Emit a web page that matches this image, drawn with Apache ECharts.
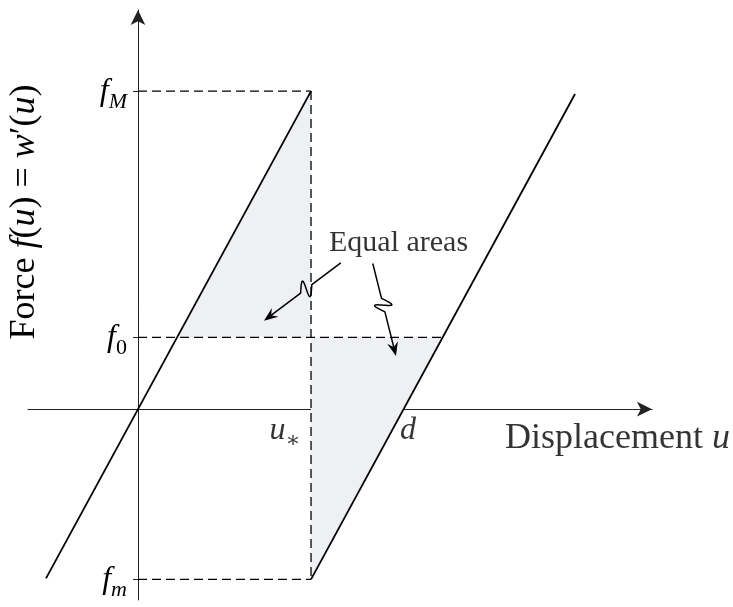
<!DOCTYPE html>
<html>
<head>
<meta charset="utf-8">
<script src="https://cdn.jsdelivr.net/npm/echarts@6/dist/echarts.min.js"></script>
<style>
  html, body { margin: 0; padding: 0; background: #fff; }
  #chart { width: 733px; height: 607px; }
</style>
</head>
<body>
<div id="chart"></div>
<script>
// key values of the force-displacement diagram (arbitrary units)
const fM = 1.0;
const f0 = 0.226;
const fm = -0.535;
const uStar = 1.0;
const d = 1.535;

// solid branches
const loadingBranch = [[-0.532, -0.532], [uStar, fM]];
const unloadingBranch = [[uStar, fm], [2.526, 0.991]];

// dashed guides
const guideTop = [[0, fM], [uStar, fM]];
const guideMid = [[0, f0], [d + f0, f0]];
const guideBottom = [[0, fm], [uStar, fm]];
const guideVertical = [[uStar, fM], [uStar, fm]];

// shaded "equal areas" triangles, flattened x1,y1,x2,y2,x3,y3
const shadeRegions = [
    [f0, f0, uStar, fM, uStar, f0],
    [uStar, f0, uStar, fm, d + f0, f0]
];

// squiggly arrows: start x,y -> tip x,y
const arrows = [
    [1.172, 0.460, 0.728, 0.278],
    [1.357, 0.458, 1.491, 0.167]
];

// y axis ticks and labels
const yTickValues = [fm, f0, fM];
const yTickLabels = ['{i|f}{si|m}', '{i|f}{s|0}', '{i|f}{si|M}'];

// free text labels
const textLabels = [
    { value: [0.850, -0.066], text: '{i|u}{s|∗}' },
    { value: [1.561, -0.066], text: '{i|d}' },
    { value: [2.772, -0.091], text: '{n|Displacement }{ni|u}' },
    { value: [1.506, 0.522], text: '{e|Equal areas}' }
];

const serif = '"Liberation Serif", "DejaVu Serif", serif';
const ink = '#000';
const richStyles = {
    n: { fontFamily: serif, fontSize: 36, color: ink },
    ni: { fontFamily: serif, fontSize: 36, fontStyle: 'italic', color: ink },
    i: { fontFamily: serif, fontSize: 32, fontStyle: 'italic', color: ink },
    s: { fontFamily: serif, fontSize: 22, color: ink, verticalAlign: 'bottom', padding: [0, 0, -6, 0] },
    si: { fontFamily: serif, fontSize: 22, fontStyle: 'italic', color: ink, verticalAlign: 'bottom', padding: [0, 0, -6, 0] },
    e: { fontFamily: serif, fontSize: 30, color: ink }
};

const myChart = echarts.init(document.getElementById('chart'));

const dashedDefaults = {
    type: 'line',
    symbol: 'none',
    silent: true,
    z: 3,
    lineStyle: { color: ink, width: 1.3, type: [9, 5] }
};
const solidDefaults = {
    type: 'line',
    symbol: 'none',
    silent: true,
    z: 4,
    lineStyle: { color: ink, width: 1.8 }
};

function renderShade(params, api) {
    const pts = [0, 2, 4].map(i => api.coord([api.value(i), api.value(i + 1)]));
    return {
        type: 'polygon',
        shape: { points: pts },
        style: { fill: '#eff0f3' }
    };
}

function renderArrow(params, api) {
    const p0 = api.coord([api.value(0), api.value(1)]);
    const p1 = api.coord([api.value(2), api.value(3)]);
    const dx = p1[0] - p0[0], dy = p1[1] - p0[1];
    const len = Math.sqrt(dx * dx + dy * dy);
    const ux = dx / len, uy = dy / len;
    const nx = -uy, ny = ux;
    const headLen = 14, headW = 11;
    // curly "snake" kink: forward step L, backward swing B, side swing A
    const waveMid = len * 0.45, L = 14, B = 5, A = 8.5;
    const shaftEnd = len - headLen * 0.6;
    const pts = [];
    const pt = (s, q) => [p0[0] + ux * s + nx * q, p0[1] + uy * s + ny * q];
    pts.push(pt(0, 0));
    const w0 = waveMid - L / 2;
    for (let k = 0; k <= 40; k++) {
        const t = k / 40;
        const sn = Math.sin(2 * Math.PI * t);
        pts.push(pt(w0 + L * t + B * sn, -A * sn));
    }
    pts.push(pt(shaftEnd, 0));
    const head = [
        p1,
        pt(len - headLen, headW / 2),
        pt(len - headLen * 0.65, 0),
        pt(len - headLen, -headW / 2)
    ];
    return {
        type: 'group',
        children: [
            { type: 'polyline', shape: { points: pts }, style: { stroke: ink, lineWidth: 1.5, fill: null, lineJoin: 'round' } },
            { type: 'polygon', shape: { points: head }, style: { fill: ink } }
        ]
    };
}

const option = {
    animation: false,
    backgroundColor: '#fff',
    grid: { left: 28, right: 81, top: 10, bottom: 7, outerBoundsMode: 'none', containLabel: false },
    xAxis: {
        type: 'value',
        min: -0.636,
        max: 2.971,
        axisLine: {
            onZero: true,
            symbol: ['none', 'arrow'],
            symbolSize: [11, 15],
            lineStyle: { color: '#222', width: 1 }
        },
        axisTick: { show: false },
        axisLabel: { show: false },
        splitLine: { show: false }
    },
    yAxis: {
        type: 'value',
        min: -0.60,
        max: 1.255,
        offset: -110,
        axisLine: {
            onZero: false,
            symbol: ['none', 'arrow'],
            symbolSize: [11, 15],
            lineStyle: { color: '#222', width: 1 }
        },
        axisTick: { show: true, customValues: yTickValues, length: 5, lineStyle: { color: '#222' } },
        axisLabel: {
            customValues: yTickValues,
            margin: 11,
            formatter: (value) => yTickLabels[yTickValues.indexOf(value)] || '',
            rich: richStyles
        },
        splitLine: { show: false }
    },
    graphic: [{
        type: 'text',
        x: 25,
        y: 212,
        rotation: Math.PI / 2,
        style: {
            text: '{n|Force }{ni|f}{n|(}{ni|u}{n|) = }{ni|w}{n|′(}{ni|u}{n|)}',
            rich: richStyles,
            align: 'center',
            verticalAlign: 'middle'
        }
    }],
    series: [
        {
            type: 'custom',
            silent: true,
            z: 1,
            renderItem: renderShade,
            data: shadeRegions
        },
        { ...dashedDefaults, data: guideTop },
        { ...dashedDefaults, data: guideMid },
        { ...dashedDefaults, data: guideBottom },
        { ...dashedDefaults, data: guideVertical },
        { ...solidDefaults, data: loadingBranch },
        { ...solidDefaults, data: unloadingBranch },
        {
            type: 'custom',
            silent: true,
            z: 5,
            renderItem: renderArrow,
            data: arrows
        },
        {
            type: 'scatter',
            silent: true,
            symbolSize: 0,
            z: 6,
            data: textLabels.map(t => ({
                value: t.value,
                label: {
                    show: true,
                    position: 'inside',
                    formatter: t.text,
                    rich: richStyles
                }
            }))
        }
    ]
};

myChart.setOption(option);

window.onresize = function () {
    myChart.resize();
};
</script>
</body>
</html>
